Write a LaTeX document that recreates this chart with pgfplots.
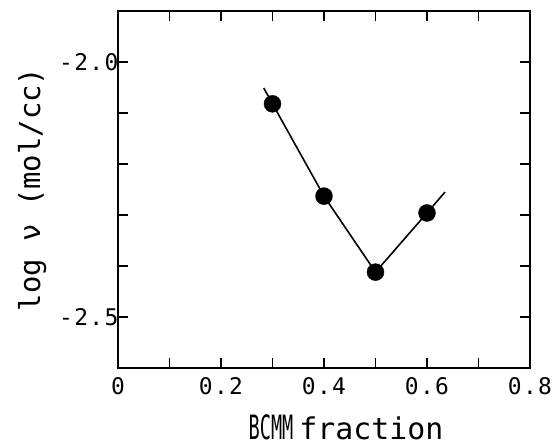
\documentclass[border=0pt]{standalone}
\usepackage{fontspec}
\setmainfont{DejaVu Sans Mono}
\usepackage{pgfplots}
\pgfplotsset{compat=1.18}
\begin{document}
\begin{tikzpicture}
\begin{axis}[name=ax, scale only axis, width=412bp, height=357bp,
  xmin=0, xmax=0.8, ymin=-2.6, ymax=-1.9,
  xtick={0,0.2,0.4,0.6,0.8}, xticklabels={0,0.2,0.4,0.6,0.8},
  minor xtick={0.1,0.3,0.5,0.7},
  ytick={-2.5,-2.0}, yticklabels={-2.5,-2.0},
  minor ytick={-2.4,-2.3,-2.2,-2.1},
  major tick length=10bp, minor tick length=10bp,
  tick style={line width=1.5bp, black},
  axis line style={line width=1.8bp},
  tick label style={font=\fontsize{23}{26}\selectfont\addfontfeatures{LetterSpace=6}},
  xticklabel style={yshift=-6bp},
  yticklabel style={xshift=4bp},
  xlabel={\scalebox{0.62}[1.12]{BCMM}\hspace{6bp}fraction}, ylabel={log ν (mol/cc)},
  xlabel style={font=\fontsize{30}{32}\selectfont, at={(axis description cs:0.5,0)}, anchor=base, yshift=-71bp, xshift=22bp},
  ylabel style={font=\fontsize{29}{32}\selectfont, at={(axis description cs:-0.1893,0.5)}, anchor=base},
]
\addplot[black, line width=1.6bp, mark=none] coordinates {
  (0.283,-2.051) (0.3,-2.082) (0.4,-2.263) (0.5,-2.412) (0.6,-2.296) (0.635,-2.255)};
\addplot[only marks, mark=*, mark size=8.5bp, black] coordinates {
  (0.3,-2.082) (0.4,-2.263) (0.5,-2.412) (0.6,-2.296)};
\end{axis}
\pgfresetboundingbox
\path (ax.south west) ++(-118bp,-78bp) rectangle ++(553bp,446bp);
\end{tikzpicture}
\end{document}
